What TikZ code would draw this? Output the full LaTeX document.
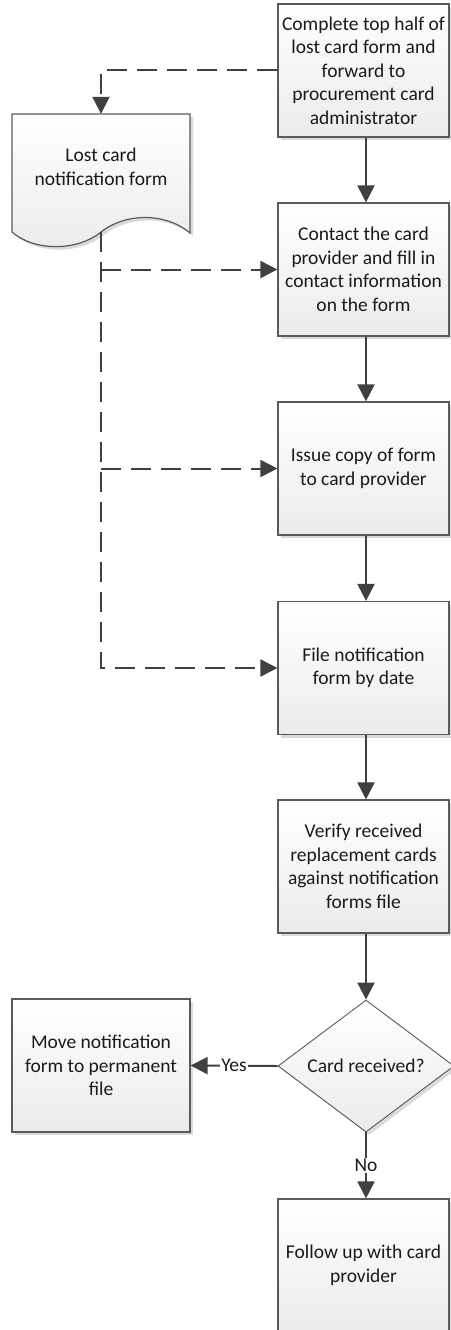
\documentclass[tikz,border=0pt]{standalone}
\usepackage{fontspec}
\setmainfont{Carlito}
\usetikzlibrary{arrows.meta,shapes.geometric,shadows,calc}

\definecolor{linegray}{HTML}{404040}
\definecolor{framegray}{HTML}{5A5A5A}
\definecolor{fillbot}{HTML}{EBEBEB}
\definecolor{shadowgray}{HTML}{DADADA}
\definecolor{textblack}{HTML}{1A1A1A}

\begin{document}
\begin{tikzpicture}[x=1pt,y=-1pt,
  font=\fontsize{19.5}{23.5}\selectfont,
  every node/.style={text=textblack},
  boxshade/.style={top color=white, bottom color=fillbot},
  boxshadow/.style={drop shadow={shadow xshift=3pt, shadow yshift=-3pt,
      fill=shadowgray, opacity=1}},
  procbox/.style={draw=framegray, line width=1.2pt, boxshade, boxshadow,
      minimum width=171pt, minimum height=133pt, align=center, inner sep=0pt},
  sidebox/.style={procbox, minimum width=178pt},
  decision/.style={diamond, draw=framegray, line width=0.9pt, boxshade, boxshadow,
      minimum width=176pt, minimum height=132pt, aspect=1.33, inner sep=0pt},
  flow/.style={draw=linegray, line width=2pt,
      -{Triangle[length=17pt,width=17pt]}},
  dashflow/.style={flow, dash pattern=on 20pt off 10pt},
  edgelabel/.style={fill=white, inner sep=1pt}
]
\useasboundingbox (0,0) rectangle (450,1330);

% process column
\node[procbox] (b1) at (363.5,70.5)
  {Complete top half of\\lost card form and\\forward to\\procurement card\\administrator};
\node[procbox] (b2) at (363.5,269.5)
  {Contact the card\\provider and fill in\\contact information\\on the form};
\node[procbox] (b3) at (363.5,468.5) {Issue copy of form\\to card provider};
\node[procbox] (b4) at (363.5,668) {File notification\\form by date};
\node[procbox] (b5) at (363.5,866.5)
  {Verify received\\replacement cards\\against notification\\forms file};
\node[decision] (dec) at (366,1066) {Card received?};
\node[sidebox] (move) at (101,1065.5) {Move notification\\form to permanent\\file};
\node[procbox] (fin) at (363.5,1265.5) {Follow up with card\\provider};

% document symbol: shadow, then shaded outline with wavy bottom
\begin{scope}[shift={(3,3)}]
  \fill[shadowgray] (12,114) -- (190,114) -- (190,233)
    .. controls (165,212) and (125,213) .. (101,232)
    .. controls (78,251) and (35,252) .. (12,232) -- cycle;
\end{scope}
\path[draw=framegray, line width=1.2pt, boxshade] (12,114) -- (190,114) -- (190,233)
    .. controls (165,212) and (125,213) .. (101,232)
    .. controls (78,251) and (35,252) .. (12,232) -- cycle;
\node[minimum width=178pt, minimum height=118pt, inner sep=0pt] (doc) at (101,173) {};
\node[align=center] (doctext) at (101,167) {Lost card\\notification form};
\coordinate (docbot) at (101,232);

% main flow
\draw[flow] ([xshift=2.5pt]b1.south) -- ([xshift=2.5pt]b2.north);
\draw[flow] ([xshift=2.5pt]b2.south) -- ([xshift=2.5pt]b3.north);
\draw[flow] ([xshift=2.5pt]b3.south) -- ([xshift=2.5pt]b4.north);
\draw[flow] ([xshift=2.5pt]b4.south) -- ([xshift=2.5pt]b5.north);
\draw[flow] ([xshift=2.5pt]b5.south) -- (dec.north);
\draw[flow] (dec.west) -- node[edgelabel] {Yes} (move.east);
\draw[flow] (dec.south) -- node[edgelabel] {No} ([xshift=2.5pt]fin.north);

% document flow
\draw[dashflow] (b1.west) -| (doc.north);
\draw[dashflow] (docbot) |- (b4.west);
\draw[dashflow] (docbot |- b2.west) -- (b2.west);
\draw[dashflow] (docbot |- b3.west) -- (b3.west);
\end{tikzpicture}
\end{document}
